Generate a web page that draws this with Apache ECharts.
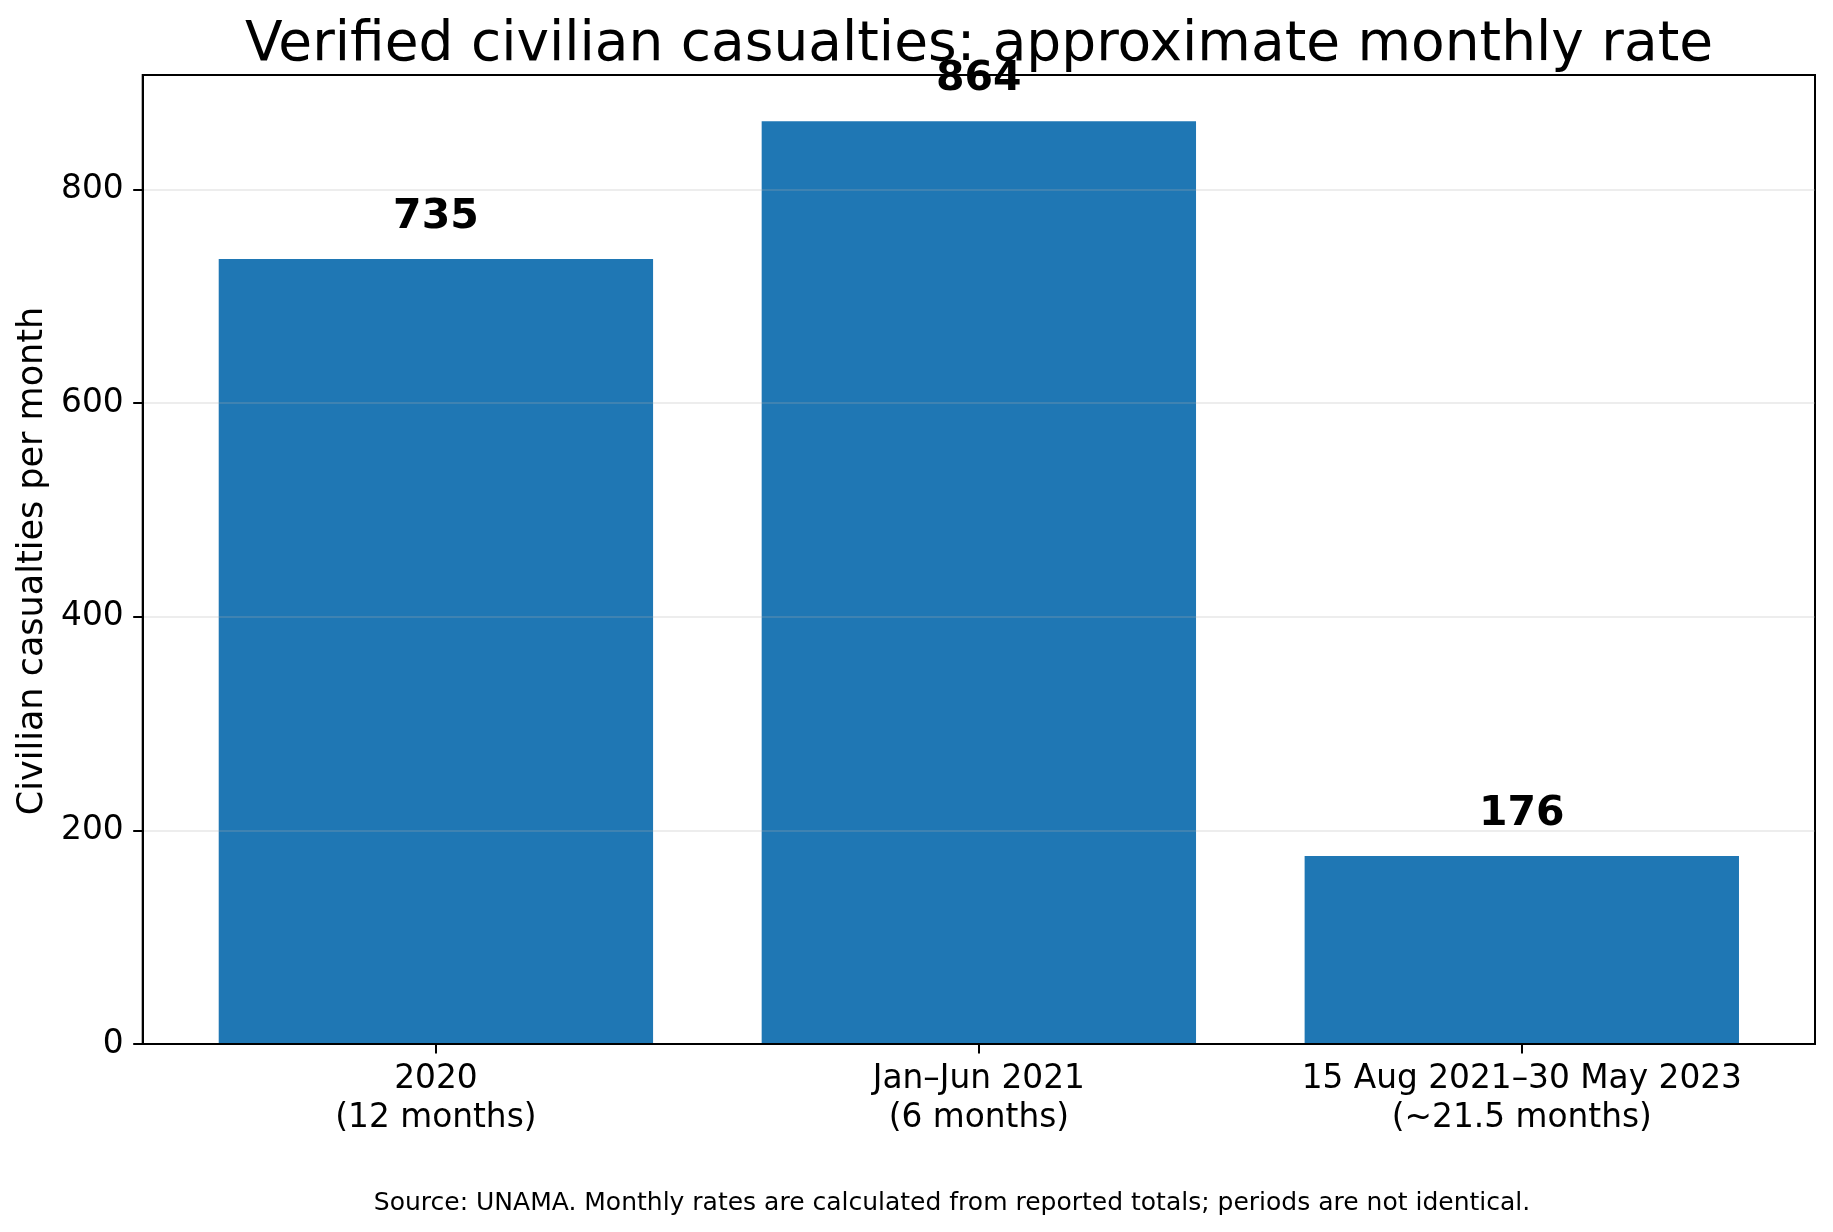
<!DOCTYPE html>
<html>
<head>
<meta charset="utf-8">
<script src="https://cdn.jsdelivr.net/npm/echarts@6/dist/echarts.min.js"></script>
<style>
html, body { margin: 0; padding: 0; background: #fff; }
#chart { width: 1833px; height: 1232px; }
</style>
</head>
<body>
<div id="chart"></div>
<script>
// ---- data ----
const periodLabels = ['2020', 'Jan–Jun 2021', '15 Aug 2021–30 May 2023'];
const periodLengths = ['(12 months)', '(6 months)', '(~21.5 months)'];
const monthlyRates = [735, 864, 176];
const yTickValues = [0, 200, 400, 600, 800];
const titleText = 'Verified civilian casualties: approximate monthly rate';
const yAxisTitle = 'Civilian casualties per month';
const footnoteText = 'Source: UNAMA. Monthly rates are calculated from reported totals; periods are not identical.';

// ---- layout ----
const W = 1833, H = 1232;
const gridLeft = 142.7, gridRight = 18, gridTop = 75, gridBottom = 188;
const xMin = -0.54, xMax = 2.54;
const yMax = 907.2;
const plotW = W - gridLeft - gridRight;
const barPx = plotW / (xMax - xMin) * 0.8;
const FONT = 'DejaVu Sans';

const chart = echarts.init(document.getElementById('chart'), null, { renderer: 'canvas', width: W, height: H });

const option = {
  backgroundColor: '#ffffff',
  animation: false,
  grid: {
    left: gridLeft, right: gridRight, top: gridTop, bottom: gridBottom,
    show: true, borderColor: '#000', borderWidth: 2, backgroundColor: 'transparent'
  },
  xAxis: {
    type: 'value',
    min: xMin, max: xMax,
    z: 5,
    axisLine: { show: true, onZero: false, lineStyle: { color: '#000', width: 2 } },
    axisTick: { show: true, customValues: [0, 1, 2], length: 9.5, lineStyle: { color: '#000', width: 2 } },
    axisLabel: {
      customValues: [0, 1, 2],
      formatter: v => { const i = Math.round(v); return periodLabels[i] + '\n' + periodLengths[i]; },
      color: '#000', fontFamily: FONT, fontSize: 32.8, lineHeight: 39, margin: 16
    },
    splitLine: { show: false }
  },
  yAxis: {
    type: 'value',
    min: 0, max: yMax,
    z: 5,
    axisLine: { show: true, onZero: false, lineStyle: { color: '#000', width: 2 } },
    axisTick: { show: true, customValues: yTickValues, length: 9.5, lineStyle: { color: '#000', width: 2 } },
    axisLabel: {
      customValues: yTickValues,
      color: '#000', fontFamily: FONT, fontSize: 32.8, margin: 19
    },
    splitLine: { show: true, lineStyle: { color: 'rgba(176,176,176,0.3)', width: 1.6 } }
  },
  series: [{
    type: 'bar',
    data: monthlyRates.map((v, i) => [i, v]),
    barWidth: barPx,
    itemStyle: { color: '#1f77b4' },
    label: {
      show: true, position: 'top', distance: 21,
      formatter: p => String(p.value[1]),
      color: '#000', fontFamily: FONT, fontWeight: 'bold', fontSize: 41, lineHeight: 41
    }
  }],
  graphic: [
    {
      type: 'text', x: 979, y: 46, z: 10,
      style: { text: titleText, fill: '#000', font: '55px "DejaVu Sans"', align: 'center', verticalAlign: 'middle' }
    },
    {
      type: 'text', x: 33, y: 561, rotation: Math.PI / 2, z: 10,
      style: { text: yAxisTitle, fill: '#000', font: '35px "DejaVu Sans"', align: 'center', verticalAlign: 'middle' }
    },
    {
      type: 'text', x: 952, y: 1203, z: 10,
      style: { text: footnoteText, fill: '#000', font: '25px "DejaVu Sans"', align: 'center', verticalAlign: 'middle' }
    }
  ]
};
chart.setOption(option);
</script>
</body>
</html>
